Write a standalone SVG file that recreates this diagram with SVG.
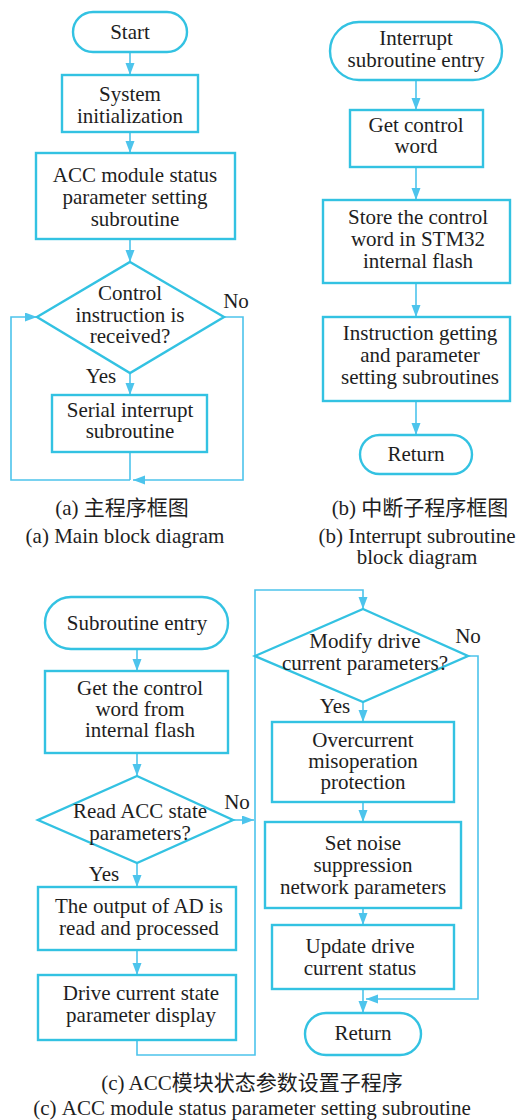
<svg xmlns="http://www.w3.org/2000/svg" width="517" height="1120" viewBox="0 0 517 1120">
<defs>
<marker id="ah" markerUnits="userSpaceOnUse" markerWidth="13" markerHeight="10" refX="12" refY="4.5" orient="auto">
<path d="M0,0 L12,4.5 L0,9 z" fill="#4DC4EC"/>
</marker>
<style>
.b{fill:#fff;stroke:#33C2E2;stroke-width:2.4}
.c{fill:none;stroke:#4DC4EC;stroke-width:1.6}
.a{marker-end:url(#ah)}
text{font-family:"Liberation Serif","Noto Sans CJK SC",serif;font-size:21px;fill:#1e1e1e;text-anchor:middle}
</style>
</defs>
<rect width="517" height="1120" fill="#fff"/>

<g id="connectors">
<line class="c a" x1="130" y1="52" x2="130" y2="75"/>
<line class="c a" x1="130" y1="132" x2="130" y2="153"/>
<line class="c a" x1="130" y1="239" x2="130" y2="262"/>
<line class="c a" x1="130" y1="373" x2="130" y2="395"/>
<line class="c" x1="130" y1="452" x2="130" y2="480"/>
<polyline class="c a" points="130,480 11,480 11,317 37,317"/>
<polyline class="c a" points="224,317 243,317 243,480 133,480"/>
<line class="c a" x1="416" y1="80" x2="416" y2="110"/>
<line class="c a" x1="416" y1="167" x2="416" y2="200"/>
<line class="c a" x1="416" y1="283" x2="416" y2="317"/>
<line class="c a" x1="416" y1="401" x2="416" y2="435"/>
<line class="c a" x1="137" y1="649" x2="137" y2="671"/>
<line class="c a" x1="137" y1="753" x2="137" y2="776"/>
<line class="c a" x1="233" y1="820" x2="254" y2="820"/>
<line class="c a" x1="137" y1="863" x2="137" y2="887"/>
<line class="c a" x1="137" y1="950" x2="137" y2="975"/>
<polyline class="c a" points="137,1040 137,1055 255,1055 255,590 363,590 363,609"/>
<line class="c a" x1="363" y1="702" x2="363" y2="722"/>
<line class="c a" x1="363" y1="802" x2="363" y2="822"/>
<line class="c a" x1="363" y1="908" x2="363" y2="925"/>
<line class="c a" x1="363" y1="989" x2="363" y2="1013"/>
<polyline class="c a" points="468,656 478,656 478,999 366,999"/>
</g>

<g id="a-start"><rect class="b" x="73" y="12" width="114" height="40" rx="20"/><text x="130" y="39">Start</text></g>
<g id="a-init"><rect class="b" x="62" y="75" width="136" height="57"/><text x="130" y="101">System<tspan x="130" dy="22">initialization</tspan></text></g>
<g id="a-acc"><rect class="b" x="36" y="153" width="199" height="86"/><text x="135" y="182">ACC module status<tspan x="135" dy="22">parameter setting</tspan><tspan x="135" dy="22">subroutine</tspan></text></g>
<g id="a-dec"><polygon class="b" points="130,262 224,317 130,373 37,317"/><text x="130" y="300">Control<tspan x="130" dy="22">instruction is</tspan><tspan x="130" dy="21">received?</tspan></text></g>
<g id="a-serial"><rect class="b" x="52" y="395" width="155" height="57"/><text x="130" y="417">Serial interrupt<tspan x="130" dy="21">subroutine</tspan></text></g>
<g id="a-labels"><text x="236" y="308">No</text><text x="101" y="383">Yes</text></g>
<g id="a-caption"><text x="122" y="515">(a) 主程序框图<tspan x="125" dy="28">(a) Main block diagram</tspan></text></g>

<g id="b-entry"><rect class="b" x="330" y="22" width="172" height="58" rx="29"/><text x="416" y="45">Interrupt<tspan x="416" dy="22">subroutine entry</tspan></text></g>
<g id="b-get"><rect class="b" x="350" y="110" width="133" height="57"/><text x="416" y="132">Get control<tspan x="416" dy="21">word</tspan></text></g>
<g id="b-store"><rect class="b" x="323" y="200" width="187" height="83"/><text x="418" y="224">Store the control<tspan x="418" dy="22">word in STM32</tspan><tspan x="418" dy="22">internal flash</tspan></text></g>
<g id="b-instr"><rect class="b" x="323" y="317" width="187" height="84"/><text x="420" y="340">Instruction getting<tspan x="420" dy="22">and parameter</tspan><tspan x="420" dy="22">setting subroutines</tspan></text></g>
<g id="b-return"><rect class="b" x="360" y="435" width="112" height="39" rx="19.5"/><text x="416" y="461">Return</text></g>
<g id="b-caption"><text x="420" y="515">(b) 中断子程序框图<tspan x="417" dy="28">(b) Interrupt subroutine</tspan><tspan x="417" dy="21">block diagram</tspan></text></g>

<g id="c-entry"><rect class="b" x="45" y="597" width="183" height="52" rx="26"/><text x="137" y="630">Subroutine entry</text></g>
<g id="c-get"><rect class="b" x="45" y="671" width="183" height="82"/><text x="140" y="695">Get the control<tspan x="140" dy="21">word from</tspan><tspan x="140" dy="21">internal flash</tspan></text></g>
<g id="c-dec1"><polygon class="b" points="137,776 233,820 137,863 38,820"/><text x="140" y="818">Read ACC state<tspan x="140" dy="22">parameters?</tspan></text></g>
<g id="c-ad"><rect class="b" x="38" y="887" width="198" height="63"/><text x="139" y="913">The output of AD is<tspan x="139" dy="22">read and processed</tspan></text></g>
<g id="c-display"><rect class="b" x="38" y="975" width="198" height="65"/><text x="141" y="1000">Drive current state<tspan x="141" dy="22">parameter display</tspan></text></g>
<g id="c-dec2"><polygon class="b" points="363,609 468,656 363,702 255,656"/><text x="365" y="648">Modify drive<tspan x="365" dy="22">current parameters?</tspan></text></g>
<g id="c-over"><rect class="b" x="272" y="722" width="182" height="80"/><text x="363" y="747">Overcurrent<tspan x="363" dy="21">misoperation</tspan><tspan x="363" dy="21">protection</tspan></text></g>
<g id="c-noise"><rect class="b" x="265" y="822" width="196" height="86"/><text x="363" y="850">Set noise<tspan x="363" dy="22">suppression</tspan><tspan x="363" dy="22">network parameters</tspan></text></g>
<g id="c-update"><rect class="b" x="272" y="925" width="182" height="64"/><text x="360" y="953">Update drive<tspan x="360" dy="22">current status</tspan></text></g>
<g id="c-return"><rect class="b" x="305" y="1013" width="116" height="42" rx="21"/><text x="363" y="1040">Return</text></g>
<g id="c-labels"><text x="237" y="809">No</text><text x="104" y="881">Yes</text><text x="468" y="643">No</text><text x="335" y="713">Yes</text></g>
<g id="c-caption"><text x="252" y="1090">(c) ACC模块状态参数设置子程序<tspan x="252" dy="25">(c) ACC module status parameter setting subroutine</tspan></text></g>
</svg>
